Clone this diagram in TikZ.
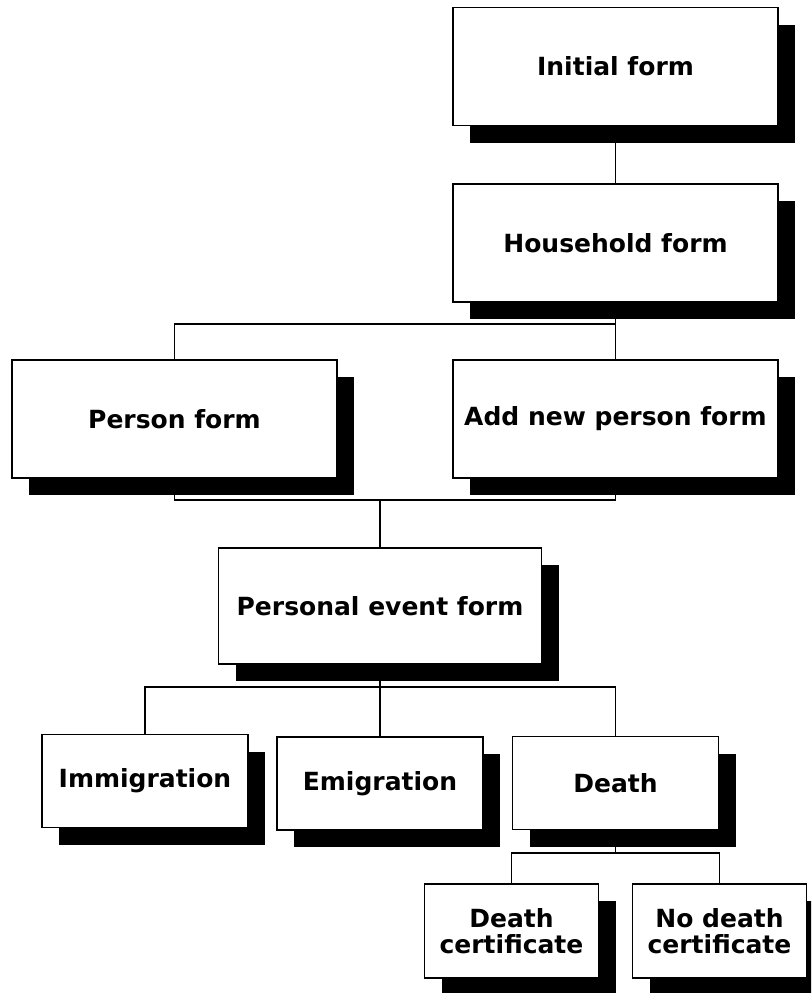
\documentclass[tikz,border=0pt]{standalone}
\usepackage{fontspec}
\setmainfont{DejaVu Sans}
\usetikzlibrary{shadows,backgrounds}

\tikzset{
  formbox/.style={
    draw=black, line width=1.6pt, fill=white, rectangle,
    inner sep=0pt, align=center,
    font=\bfseries\fontsize{25}{26}\selectfont,
    drop shadow={shadow xshift=17pt, shadow yshift=-17pt, opacity=1, fill=black}
  },
  bigform/.style={formbox, minimum width=325pt, minimum height=118pt},
  smallform/.style={formbox, minimum width=206pt, minimum height=93pt},
  certform/.style={formbox, minimum width=174pt, minimum height=94pt},
  link/.style={draw=black, line width=1.6pt}
}

\begin{document}
\begin{tikzpicture}[x=1pt, y=-1pt]
  % page area; shadows running past the edge are cut off
  \useasboundingbox (0,0) rectangle (811,993);
  \path[clip] (0,0) rectangle (811,993);

  % form boxes
  \node[bigform] (init)   at (615.5,66.5) {Initial form};
  \node[bigform] (house)  at (615.5,243)  {Household form};
  \node[bigform] (person) at (174.5,419)  {Person form};
  \node[bigform] (addnew) at (615.5,419)  {Add new person form};
  \node[bigform, minimum width=323pt, minimum height=116pt] (event) at (380,606) {Personal event form};
  \node[smallform] (immig) at (145,781)   {Immigration};
  \node[smallform] (emig)  at (380,783.5) {Emigration};
  \node[smallform] (death) at (615.5,783) {Death};
  \node[certform] (dcert)   at (511.5,931) {Death\\certificate};
  \node[certform] (nodcert) at (719.5,931) {No death\\certificate};

  % junction points of the branching lines
  \coordinate (j1) at (615.5,324);
  \coordinate (j2) at (380,500);
  \coordinate (j3) at (380,687);
  \coordinate (j4) at (615.5,853);

  % white page and connectors, kept behind boxes and shadows
  \begin{pgfonlayer}{background}
    \fill[white] (0,0) rectangle (811,993);
    \draw[link] (init.south) -- (house.south);
    \draw[link] (house.south) -- (addnew.north);
    \draw[link] (person.north) |- (j1);
    \draw[link] (person.south) |- (j2) -| (addnew.south);
    \draw[link] (j2) -- (event.north);
    \draw[link] (event.south) -- (emig.north);
    \draw[link] (immig.north) |- (j3) -| (death.north);
    \draw[link] (death.south) -- (j4);
    \draw[link] (dcert.north) |- (j4) -| (nodcert.north);
  \end{pgfonlayer}
\end{tikzpicture}
\end{document}
